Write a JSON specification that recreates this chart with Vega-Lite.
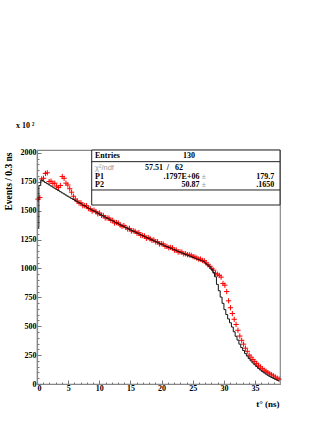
{
  "$schema": "https://vega.github.io/schema/vega-lite/v6.json",
  "width": 243,
  "height": 234,
  "autosize": "none",
  "padding": {"left": 37, "top": 150, "right": 47, "bottom": 39},
  "background": "white",
  "config": {
    "view": {"stroke": "#888888", "strokeWidth": 1.2},
    "font": "Liberation Serif"
  },
  "title": {
    "text": "x 10 ²",
    "anchor": "start",
    "frame": "group",
    "offset": 13,
    "dx": -21,
    "font": "Liberation Serif",
    "fontSize": 8,
    "fontWeight": "bold",
    "baseline": "alphabetic",
    "color": "black"
  },
  "datasets": {
    "hist": [
      {"t":0.15,"h":1355,"r":1600},{"t":0.45,"h":1718,"r":1614},{"t":0.75,"h":1765,"r":1775},{"t":1.05,"h":1755,"r":1780},
      {"t":1.35,"h":1744,"r":1822},{"t":1.65,"h":1734,"r":1828},{"t":1.95,"h":1724,"r":1752},{"t":2.25,"h":1714,"r":1755},
      {"t":2.55,"h":1704,"r":1735},{"t":2.85,"h":1694,"r":1738},{"t":3.15,"h":1684,"r":1712},{"t":3.45,"h":1674,"r":1700},
      {"t":3.75,"h":1664,"r":1718},{"t":4.05,"h":1654,"r":1795},{"t":4.35,"h":1645,"r":1780},{"t":4.65,"h":1635,"r":1738},
      {"t":4.95,"h":1625,"r":1722},{"t":5.25,"h":1616,"r":1690},{"t":5.55,"h":1606,"r":1660},{"t":5.85,"h":1597,"r":1625},
      {"t":6.15,"h":1587,"r":1600},{"t":6.45,"h":1578,"r":1584},{"t":6.75,"h":1569,"r":1565},{"t":7.05,"h":1560,"r":1569},
      {"t":7.35,"h":1550,"r":1543},{"t":7.65,"h":1541,"r":1544},{"t":7.95,"h":1532,"r":1543},{"t":8.25,"h":1523,"r":1518},
      {"t":8.55,"h":1514,"r":1516},{"t":8.85,"h":1505,"r":1496},{"t":9.15,"h":1497,"r":1504},{"t":9.45,"h":1488,"r":1492},
      {"t":9.75,"h":1479,"r":1473},{"t":10.05,"h":1470,"r":1480},{"t":10.35,"h":1462,"r":1459},{"t":10.65,"h":1453,"r":1458},
      {"t":10.95,"h":1445,"r":1437},{"t":11.25,"h":1436,"r":1437},{"t":11.55,"h":1428,"r":1436},{"t":11.85,"h":1419,"r":1415},
      {"t":12.15,"h":1411,"r":1417},{"t":12.45,"h":1403,"r":1393},{"t":12.75,"h":1394,"r":1397},{"t":13.05,"h":1386,"r":1393},
      {"t":13.35,"h":1378,"r":1376},{"t":13.65,"h":1370,"r":1364},{"t":13.95,"h":1362,"r":1371},{"t":14.25,"h":1354,"r":1356},
      {"t":14.55,"h":1346,"r":1341},{"t":14.85,"h":1338,"r":1346},{"t":15.15,"h":1330,"r":1323},{"t":15.45,"h":1322,"r":1326},
      {"t":15.75,"h":1315,"r":1321},{"t":16.05,"h":1307,"r":1304},{"t":16.35,"h":1299,"r":1310},{"t":16.65,"h":1292,"r":1286},
      {"t":16.95,"h":1284,"r":1285},{"t":17.25,"h":1276,"r":1281},{"t":17.55,"h":1269,"r":1260},{"t":17.85,"h":1261,"r":1268},
      {"t":18.15,"h":1254,"r":1257},{"t":18.45,"h":1247,"r":1243},{"t":18.75,"h":1239,"r":1247},{"t":19.05,"h":1232,"r":1230},
      {"t":19.35,"h":1225,"r":1231},{"t":19.65,"h":1218,"r":1211},{"t":19.95,"h":1210,"r":1214},{"t":20.25,"h":1203,"r":1212},
      {"t":20.55,"h":1196,"r":1191},{"t":20.85,"h":1189,"r":1191},{"t":21.15,"h":1182,"r":1179},{"t":21.45,"h":1175,"r":1182},
      {"t":21.75,"h":1168,"r":1178},{"t":22.05,"h":1162,"r":1158},{"t":22.35,"h":1155,"r":1160},{"t":22.65,"h":1148,"r":1142},
      {"t":22.95,"h":1141,"r":1144},{"t":23.25,"h":1134,"r":1142},{"t":23.55,"h":1128,"r":1126},{"t":23.85,"h":1121,"r":1127},
      {"t":24.15,"h":1115,"r":1119},{"t":24.45,"h":1108,"r":1117},{"t":24.75,"h":1102,"r":1114},{"t":25.05,"h":1095,"r":1102},
      {"t":25.35,"h":1089,"r":1099},{"t":25.65,"h":1082,"r":1090},{"t":25.95,"h":1076,"r":1081},{"t":26.25,"h":1070,"r":1081},
      {"t":26.55,"h":1063,"r":1069},{"t":26.85,"h":1057,"r":1066},{"t":27.15,"h":1040,"r":1048},{"t":27.45,"h":1029,"r":1032},
      {"t":27.75,"h":1013,"r":1018},{"t":28.05,"h":991,"r":1000},{"t":28.35,"h":965,"r":985},{"t":28.65,"h":928,"r":958},
      {"t":28.95,"h":862,"r":950},{"t":29.25,"h":807,"r":940},{"t":29.55,"h":752,"r":925},{"t":29.85,"h":698,"r":870},
      {"t":30.15,"h":644,"r":855},{"t":30.45,"h":601,"r":800},{"t":30.75,"h":563,"r":720},{"t":31.05,"h":530,"r":660},
      {"t":31.35,"h":493,"r":610},{"t":31.65,"h":452,"r":560},{"t":31.95,"h":413,"r":515},{"t":32.25,"h":380,"r":465},
      {"t":32.55,"h":345,"r":415},{"t":32.85,"h":315,"r":378},{"t":33.15,"h":290,"r":345},{"t":33.45,"h":265,"r":310},
      {"t":33.75,"h":242,"r":283},{"t":34.05,"h":220,"r":250},{"t":34.35,"h":201,"r":232},{"t":34.65,"h":183,"r":212},
      {"t":34.95,"h":167,"r":195},{"t":35.25,"h":151,"r":178},{"t":35.55,"h":135,"r":162},{"t":35.85,"h":122,"r":148},
      {"t":36.15,"h":109,"r":133},{"t":36.45,"h":97,"r":120},{"t":36.75,"h":86,"r":110},{"t":37.05,"h":76,"r":98},
      {"t":37.35,"h":66,"r":88},{"t":37.65,"h":57,"r":80},{"t":37.95,"h":49,"r":70},{"t":38.25,"h":41,"r":60},
      {"t":38.55,"h":34,"r":50},{"t":38.85,"h":28,"r":42}
    ],
    "box": [
      {"x1": 8.78, "x2": 39, "y1": 1549, "y2": 2025}
    ],
    "lines": [
      {"x1": 8.78, "x2": 39, "y": 1924},
      {"x1": 8.78, "x2": 39, "y": 1679}
    ],
    "texts": [
      {"kind": "name", "x": 9.31, "y": 1955, "label": "Entries"},
      {"kind": "name", "x": 9.31, "y": 1775, "label": "P1"},
      {"kind": "name", "x": 9.31, "y": 1703, "label": "P2"},
      {"kind": "name", "x": 17.33, "y": 1848, "label": "57.51"},
      {"kind": "note", "x": 9.31, "y": 1848, "label": "χ²/ndf"},
      {"kind": "note", "x": 26.43, "y": 1775, "label": "±"},
      {"kind": "note", "x": 26.43, "y": 1703, "label": "±"},
      {"kind": "center", "x": 24.4, "y": 1955, "label": "130"},
      {"kind": "center", "x": 21.0, "y": 1848, "label": "/"},
      {"kind": "center", "x": 22.8, "y": 1848, "label": "62"},
      {"kind": "value", "x": 26.08, "y": 1775, "label": ".1797E+06"},
      {"kind": "value", "x": 26.08, "y": 1703, "label": "50.87"},
      {"kind": "value", "x": 38.08, "y": 1775, "label": "179.7"},
      {"kind": "value", "x": 38.08, "y": 1703, "label": ".1650"}
    ]
  },
  "resolve": {"axis": {"x": "independent", "y": "independent"}},
  "layer": [
    {
      "data": {"name": "hist"},
      "mark": {"type": "point", "shape": "M-1,0H1M0,-1V1", "size": 28, "filled": false, "stroke": "#ff0000", "strokeWidth": 1, "opacity": 1},
      "encoding": {
        "x": {
          "field": "t", "type": "quantitative",
          "scale": {"domain": [0, 39], "nice": false, "zero": true},
          "axis": {
            "values": [0, 5, 10, 15, 20, 25, 30, 35],
            "format": "d",
            "tickSize": -4, "tickColor": "#777777", "tickWidth": 1,
            "domainColor": "#888888", "domainWidth": 1.2,
            "labelFont": "Liberation Serif", "labelFontWeight": "bold", "labelFontSize": 8, "labelColor": "black",
            "labelPadding": 4, "labelBaseline": "top",
            "grid": false,
            "title": "t° (ns)",
            "titleFont": "Liberation Serif", "titleFontWeight": "bold", "titleFontSize": 9, "titleColor": "black",
            "titleX": 242, "titleY": 22, "titleAlign": "right", "titleBaseline": "alphabetic", "titleAnchor": null
          }
        },
        "y": {
          "field": "r", "type": "quantitative",
          "scale": {"domain": [0, 2025], "nice": false, "zero": true},
          "axis": {
            "values": [0, 250, 500, 750, 1000, 1250, 1500, 1750, 2000],
            "format": "d",
            "tickSize": -4, "tickColor": "#777777", "tickWidth": 1,
            "domainColor": "#888888", "domainWidth": 1.2,
            "labelFont": "Liberation Serif", "labelFontWeight": "bold", "labelFontSize": 8, "labelColor": "black",
            "labelPadding": 5,
            "grid": false,
            "title": "Events / 0.3 ns",
            "titleFont": "Liberation Serif", "titleFontWeight": "bold", "titleFontSize": 9.5, "titleColor": "black",
            "titleAngle": 270, "titleX": -26, "titleY": 2, "titleAlign": "right", "titleBaseline": "alphabetic"
          }
        }
      }
    },
    {
      "data": {"name": "hist"},
      "mark": {"type": "line", "interpolate": "step", "color": "#111111", "strokeWidth": 1},
      "encoding": {
        "x": {
          "field": "t", "type": "quantitative",
          "scale": {"domain": [0, 39], "nice": false, "zero": true},
          "axis": {
            "orient": "bottom",
            "values": [1,2,3,4,6,7,8,9,11,12,13,14,16,17,18,19,21,22,23,24,26,27,28,29,31,32,33,34,36,37,38],
            "tickSize": -2, "tickColor": "#777777", "tickWidth": 1,
            "domain": false, "labels": false, "grid": false, "title": null
          }
        },
        "y": {
          "field": "h", "type": "quantitative",
          "scale": {"domain": [0, 2025], "nice": false, "zero": true},
          "axis": {
            "orient": "left",
            "values": [50,100,150,200,300,350,400,450,550,600,650,700,800,850,900,950,1050,1100,1150,1200,1300,1350,1400,1450,1550,1600,1650,1700,1800,1850,1900,1950],
            "tickSize": -2, "tickColor": "#777777", "tickWidth": 1,
            "domain": false, "labels": false, "grid": false, "title": null
          }
        }
      }
    },
    {
      "data": {"name": "box"},
      "mark": {"type": "rect", "fill": "white", "stroke": "#222222", "strokeWidth": 1},
      "encoding": {
        "x": {"field": "x1", "type": "quantitative", "axis": null},
        "x2": {"field": "x2"},
        "y": {"field": "y1", "type": "quantitative", "axis": null},
        "y2": {"field": "y2"}
      }
    },
    {
      "data": {"name": "lines"},
      "mark": {"type": "rule", "stroke": "#222222", "strokeWidth": 1},
      "encoding": {
        "x": {"field": "x1", "type": "quantitative", "axis": null},
        "x2": {"field": "x2"},
        "y": {"field": "y", "type": "quantitative", "axis": null}
      }
    },
    {
      "data": {"name": "texts"},
      "transform": [{"filter": "datum.kind === 'name'"}],
      "mark": {"type": "text", "align": "left", "baseline": "alphabetic", "font": "Liberation Serif", "fontWeight": "bold", "fontSize": 8, "color": "black"},
      "encoding": {
        "x": {"field": "x", "type": "quantitative", "axis": null},
        "y": {"field": "y", "type": "quantitative", "axis": null},
        "text": {"field": "label"}
      }
    },
    {
      "data": {"name": "texts"},
      "transform": [{"filter": "datum.kind === 'note'"}],
      "mark": {"type": "text", "align": "left", "baseline": "alphabetic", "font": "Liberation Sans", "fontSize": 7.5, "color": "#9a9a9a"},
      "encoding": {
        "x": {"field": "x", "type": "quantitative", "axis": null},
        "y": {"field": "y", "type": "quantitative", "axis": null},
        "text": {"field": "label"}
      }
    },
    {
      "data": {"name": "texts"},
      "transform": [{"filter": "datum.kind === 'center'"}],
      "mark": {"type": "text", "align": "center", "baseline": "alphabetic", "font": "Liberation Serif", "fontWeight": "bold", "fontSize": 8, "color": "black"},
      "encoding": {
        "x": {"field": "x", "type": "quantitative", "axis": null},
        "y": {"field": "y", "type": "quantitative", "axis": null},
        "text": {"field": "label"}
      }
    },
    {
      "data": {"name": "texts"},
      "transform": [{"filter": "datum.kind === 'value'"}],
      "mark": {"type": "text", "align": "right", "baseline": "alphabetic", "font": "Liberation Serif", "fontWeight": "bold", "fontSize": 8, "color": "black"},
      "encoding": {
        "x": {"field": "x", "type": "quantitative", "axis": null},
        "y": {"field": "y", "type": "quantitative", "axis": null},
        "text": {"field": "label"}
      }
    }
  ]
}
